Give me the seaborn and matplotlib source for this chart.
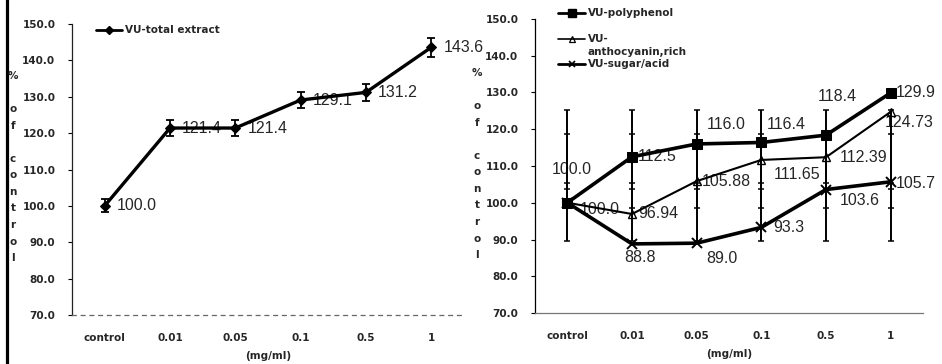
import matplotlib
matplotlib.use("Agg")
import matplotlib.pyplot as plt
import seaborn as sns
import pandas as pd
from matplotlib.lines import Line2D

sns.set_theme(style="white")
plt.rcParams["font.family"] = ["DejaVu Sans"]

# ---- data -------------------------------------------------------------
categories = ["control", "0.01", "0.05", "0.1", "0.5", "1"]

total_extract = [100.0, 121.4, 121.4, 129.1, 131.2, 143.6]
total_extract_err = [1.8, 2.3, 2.3, 2.2, 2.4, 2.6]

polyphenol = [100.0, 112.5, 116.0, 116.4, 118.4, 129.9]
anthocyanin = [100.0, 96.94, 105.88, 111.65, 112.39, 124.73]
sugar_acid = [100.0, 88.8, 89.0, 93.3, 103.6, 105.7]

# whisker ranges repeated at every dose on the fraction panel
band_low = [89.7, 98.7, 103.8]
band_high = [125.3, 118.7, 105.5]

yticks = [70, 80, 90, 100, 110, 120, 130, 140, 150]

W, H = 942, 364
fig = plt.figure(figsize=(W / 100, H / 100), dpi=100)
fig.patch.set_facecolor("white")


def px(x, y):
    return x / W, 1 - y / H


axL = fig.add_axes([72 / W, 1 - 315 / H, 392 / W, 291 / H])
axR = fig.add_axes([535 / W, 1 - 313 / H, 388 / W, 294 / H])

pos = list(range(len(categories)))
tick_font = dict(family="DejaVu Sans", weight="bold", size=7.5)
val_font = dict(family="Liberation Sans", size=11.5)

# ---- left panel: total extract ---------------------------------------
df_total = pd.DataFrame({"pos": pos, "value": total_extract})
axL.errorbar(pos, total_extract, yerr=total_extract_err, fmt="none",
             ecolor="black", elinewidth=1.3, capsize=3, capthick=1.3, zorder=2)
sns.lineplot(data=df_total, x="pos", y="value", ax=axL, color="black",
             lw=2.4, marker="D", markersize=5.5, markeredgecolor="black",
             zorder=4)
for x, v in zip(pos, total_extract):
    axL.annotate(f"{v:.1f}", (x, v), xytext=(12, 0), textcoords="offset pixels",
                 ha="left", va="center", zorder=1.5, **val_font)

# ---- right panel: fractions -------------------------------------------
for lo, hi in zip(band_low, band_high):
    mid = (lo + hi) / 2
    axR.errorbar(pos, [mid] * len(pos), yerr=[[mid - lo] * len(pos), [hi - mid] * len(pos)],
                 fmt="none", ecolor="black", elinewidth=1.4, capsize=2.5,
                 capthick=1.1, zorder=2)

series = [
    ("VU-polyphenol", polyphenol, dict(lw=2.6, marker="s", markersize=7,
                                       markerfacecolor="black", markeredgecolor="black")),
    ("VU-anthocyanin,rich", anthocyanin, dict(lw=1.5, marker="^", markersize=6,
                                              markerfacecolor="none", markeredgecolor="black",
                                              markeredgewidth=1.0)),
    ("VU-sugar/acid", sugar_acid, dict(lw=2.6, marker="x", markersize=7,
                                       markeredgecolor="black", markeredgewidth=1.4)),
]
for name, vals, style in series:
    df = pd.DataFrame({"pos": pos, "value": vals})
    sns.lineplot(data=df, x="pos", y="value", ax=axR, color="black", zorder=4, **style)

poly_labels = [f"{v:.1f}" for v in polyphenol]
antho_labels = [f"{v:.1f}" if i == 0 else f"{v:.2f}" for i, v in enumerate(anthocyanin)]
sugar_labels = [None] + [f"{v:.1f}" for v in sugar_acid[1:]]

poly_off = [(4, 33, "center"), (6, 0, "left"), (10, 19, "left"),
            (5, 18, "left"), (-8, 39, "left"), (5, 0, "left")]
antho_off = [(12, -7, "left"), (6, 0, "left"), (5, 0, "left"),
             (12, -15, "left"), (14, 0, "left"), (-6, -11, "left")]
sugar_off = [None, (8, -14, "center"), (10, -15, "left"),
             (12, 0, "left"), (14, -11, "left"), (5, -2, "left")]

for vals, labels, offs in [(polyphenol, poly_labels, poly_off),
                           (anthocyanin, antho_labels, antho_off),
                           (sugar_acid, sugar_labels, sugar_off)]:
    for x, v, lab, off in zip(pos, vals, labels, offs):
        if lab is None:
            continue
        dx, dy, ha = off
        axR.annotate(lab, (x, v), xytext=(dx, dy), textcoords="offset pixels",
                     ha=ha, va="center", zorder=1.5, **val_font)

# ---- axes styling ---------------------------------------------------------
for ax in (axL, axR):
    ax.set_xlim(-0.5, 5.5)
    ax.set_ylim(70, 150)
    ax.set_yticks(yticks)
    ax.set_yticklabels([f"{t:.1f}" for t in yticks], **tick_font)
    ax.set_xticks(pos)
    ax.set_xticklabels(categories, **tick_font)
    ax.tick_params(axis="y", length=3, width=0.8, pad=9, left=True, color="black")
    ax.tick_params(axis="x", length=0, pad=13)
    ax.set_ylabel("")
    ax.set_xlabel("(mg/ml)", labelpad=6, **tick_font)
    ax.spines["top"].set_visible(False)
    ax.spines["right"].set_visible(False)
    ax.set_facecolor("white")
    ax.grid(False)

axL.spines["left"].set_color("#222222")
axL.spines["left"].set_linewidth(0.9)
axL.spines["left"].set_linestyle((0, (2, 1)))
axL.spines["bottom"].set_color("#666666")
axL.spines["bottom"].set_linewidth(0.9)
axL.spines["bottom"].set_linestyle((0, (3, 4)))

axR.spines["left"].set_color("black")
axR.spines["left"].set_linewidth(0.9)
axR.spines["bottom"].set_color("#777777")
axR.spines["bottom"].set_linewidth(0.9)

# stacked vertical axis titles
ylabel = "%\n\no\nf\n\nc\no\nn\nt\nr\no\nl"
for xpix, ytop in [(13, 71), (477, 68)]:
    fig.text(*px(xpix, ytop), ylabel, ha="center", va="top", linespacing=1.82,
             **tick_font)

# ---- legends ----------------------------------------------------------------
def legend_entry(x0, x1, y, text, **style):
    xm = (x0 + x1) / 2
    fig.add_artist(Line2D([x0 / W, xm / W, x1 / W], [1 - y / H] * 3,
                          transform=fig.transFigure, color="black",
                          markevery=[1], **style))
    fig.text(*px(x1 + 3, y), text, ha="left", va="center", **tick_font)


legend_entry(96, 122, 30, "VU-total extract", lw=2.0, marker="D", markersize=4.5)
legend_entry(558, 585, 13, "VU-polyphenol", lw=2.0, marker="s", markersize=6)
legend_entry(558, 585, 39, "VU-", lw=1.2, marker="^", markersize=5,
             markerfacecolor="none", markeredgewidth=0.9)
fig.text(*px(588, 52), "anthocyanin,rich", ha="left", va="center", **tick_font)
legend_entry(558, 585, 64, "VU-sugar/acid", lw=2.0, marker="x", markersize=5,
             markeredgewidth=1.2)

# heavy left border line
fig.add_artist(Line2D([6.5 / W, 6.5 / W], [0, 1], transform=fig.transFigure,
                      color="black", lw=2.3))

fig.savefig("out.png", dpi=100, facecolor="white")
